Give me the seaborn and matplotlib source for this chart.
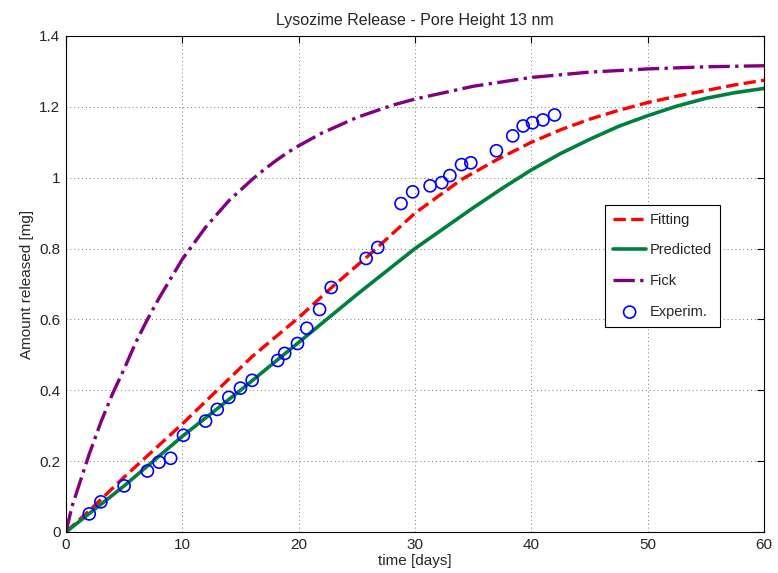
import numpy as np
import matplotlib
matplotlib.use('Agg')
import matplotlib.pyplot as plt
import seaborn as sns

# experimental points
exp_t = [2.0, 3.0, 5.0, 7.0, 8.0, 9.0, 10.1, 12.0, 13.0, 14.0, 15.0, 16.0,
         18.2, 18.8, 19.9, 20.7, 21.8, 22.8, 25.8, 26.8, 28.8, 29.8, 31.3,
         32.3, 33.0, 34.0, 34.8, 37.0, 38.4, 39.3, 40.1, 41.0, 42.0]
exp_y = [0.051, 0.085, 0.13, 0.172, 0.197, 0.208, 0.273, 0.313, 0.346, 0.38,
         0.406, 0.428, 0.484, 0.504, 0.532, 0.575, 0.628, 0.69, 0.772, 0.803,
         0.927, 0.96, 0.977, 0.986, 1.006, 1.037, 1.042, 1.076, 1.118, 1.146,
         1.155, 1.163, 1.177]

# fitting curve
fit_t = [0, 2, 5, 8, 10, 13, 16, 20, 23, 26, 30, 34, 37, 40, 42.5, 45,
         47.5, 50, 52.5, 55, 57.5, 60]
fit_y = [0.0, 0.06, 0.155, 0.245, 0.305, 0.40, 0.495, 0.605, 0.695, 0.78,
         0.90, 0.995, 1.05, 1.10, 1.135, 1.165, 1.19, 1.212, 1.23, 1.246,
         1.262, 1.275]

# predicted curve
pred_t = [0, 5, 10, 15, 20, 25, 30, 35, 37.5, 40, 42.5, 45, 47.5, 50,
          52.5, 55, 57.5, 60]
pred_y = [0.0, 0.13, 0.27, 0.40, 0.535, 0.67, 0.80, 0.915, 0.97, 1.022,
          1.068, 1.108, 1.145, 1.175, 1.202, 1.224, 1.24, 1.252]

# Fick curve
fick_t = [0, 0.5, 1, 2, 3, 4, 5, 6, 7, 8, 9, 10, 12, 14, 16, 17, 18, 19,
          20, 22, 25, 28, 30, 35, 40, 45, 50, 55, 60]
fick_y = [0.0, 0.07, 0.12, 0.22, 0.31, 0.39, 0.46, 0.535, 0.60, 0.66,
          0.715, 0.77, 0.86, 0.935, 0.995, 1.022, 1.047, 1.07, 1.09, 1.126,
          1.17, 1.204, 1.222, 1.258, 1.283, 1.298, 1.307, 1.313, 1.316]

xticks = [0, 10, 20, 30, 40, 50, 60]
yticks = [0, 0.2, 0.4, 0.6, 0.8, 1, 1.2, 1.4]
ytick_labels = ['0', '0.2', '0.4', '0.6', '0.8', '1', '1.2', '1.4']

sns.set_style('white')
plt.rcParams['font.family'] = ['Liberation Sans', 'DejaVu Sans']

fig = plt.figure(figsize=(7.78, 5.73), dpi=100)
ax = fig.add_axes([0.0848, 0.0716, 0.8972, 0.8656])

sns.lineplot(x=fit_t, y=fit_y, ax=ax, color='#ff0000', linestyle='--',
             linewidth=2.4, label='Fitting')
sns.lineplot(x=pred_t, y=pred_y, ax=ax, color='#00803f', linewidth=2.6,
             label='Predicted')
sns.lineplot(x=fick_t, y=fick_y, ax=ax, color='#800080', linestyle='-.',
             linewidth=2.4, label='Fick')
sns.scatterplot(x=exp_t, y=exp_y, ax=ax, marker='o', s=75,
                facecolors='none', edgecolors='#0000ff', linewidths=1.2,
                label='Experim.', zorder=5)

ax.set_xlim(0, 60)
ax.set_ylim(0, 1.4)
ax.set_xticks(xticks)
ax.set_yticks(yticks)
ax.set_yticklabels(ytick_labels)
ax.grid(True, linestyle=(0, (1, 3)), color='#777777', linewidth=0.7)
ax.tick_params(direction='in', top=True, right=True, length=5,
               labelsize=11, color='black', pad=4)
for s in ax.spines.values():
    s.set_color('black')
    s.set_linewidth(0.8)

ax.set_xlabel('time [days]', fontsize=11, labelpad=2)
ax.set_ylabel('Amount released [mg]', fontsize=11, labelpad=4)
ax.set_title('Lysozime Release - Pore Height 13 nm', fontsize=11.5, pad=8)

leg = ax.legend(loc='upper left', bbox_to_anchor=(0.772, 0.66),
                borderaxespad=0, fontsize=10.5, handlelength=2.3,
                handletextpad=0.25, borderpad=0.55, labelspacing=1.15,
                fancybox=False, framealpha=1, edgecolor='black')
leg.get_frame().set_linewidth(0.8)

fig.savefig('out.png', dpi=100)
